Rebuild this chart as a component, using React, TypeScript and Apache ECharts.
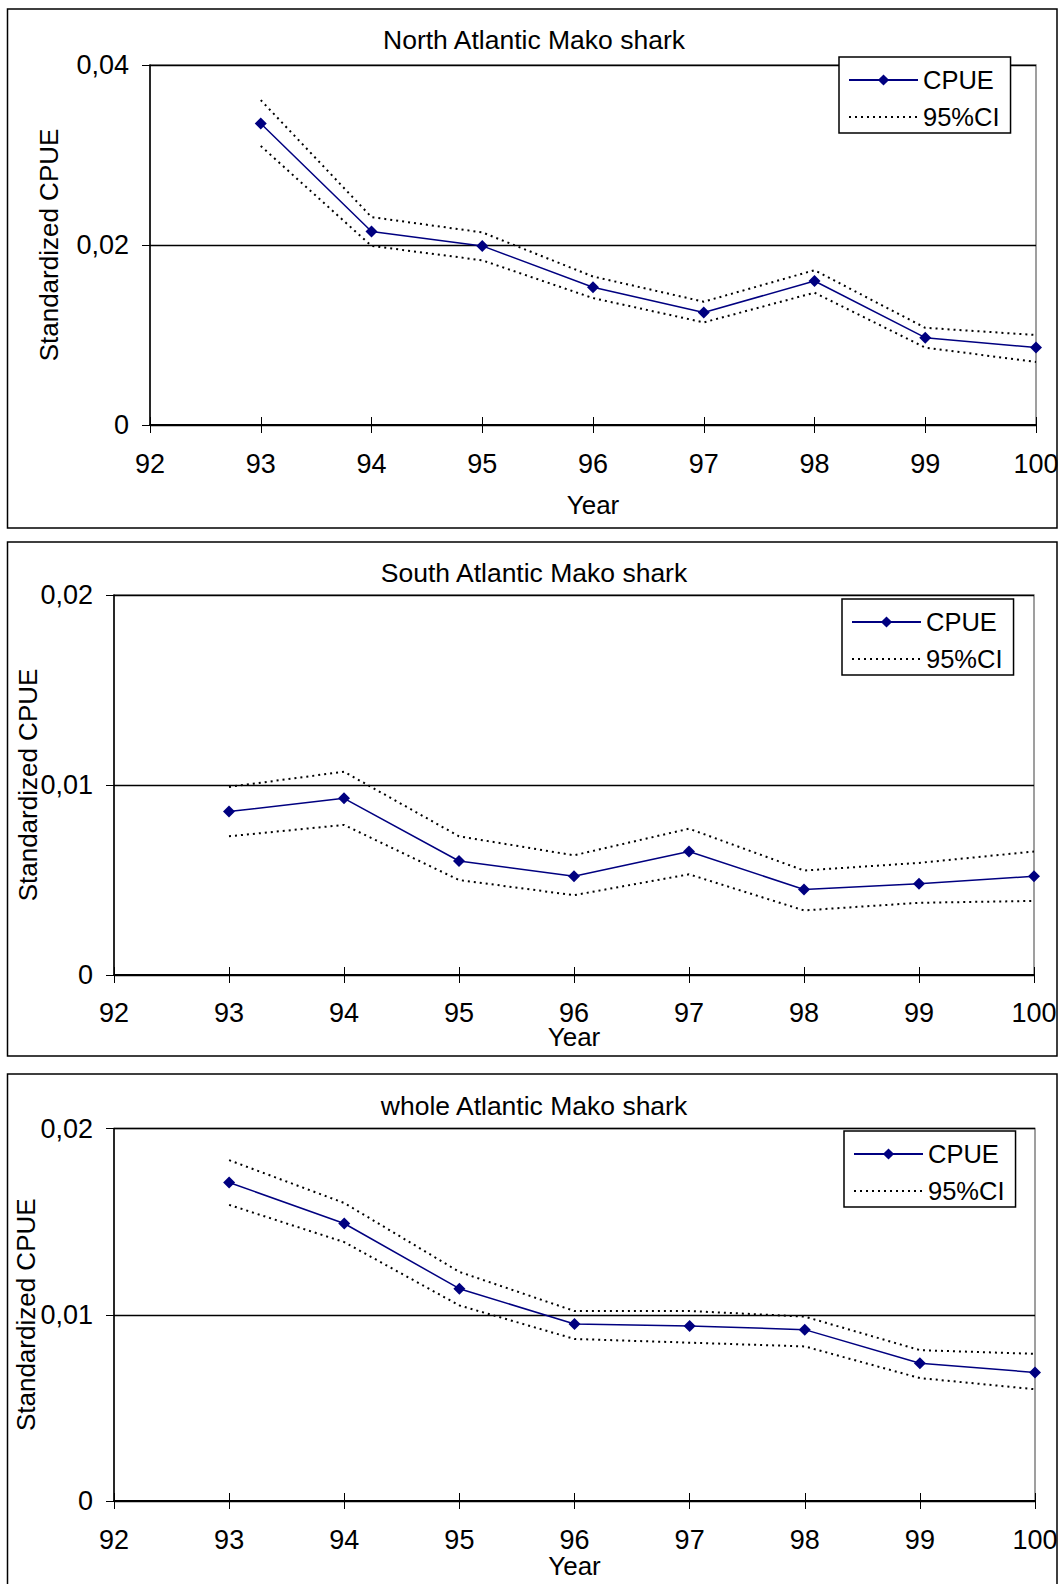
import React, { useEffect, useRef } from "react";
import * as echarts from "echarts";

const years = [93, 94, 95, 96, 97, 98, 99, 100];
const xTicks = [92, 100];

const northCpue = [0.0335, 0.0215, 0.0199, 0.0153, 0.0125, 0.016, 0.0097, 0.0086];
const northUpper = [0.0361, 0.0231, 0.0214, 0.0165, 0.0137, 0.0172, 0.0108, 0.01];
const northLower = [0.031, 0.0199, 0.0183, 0.0141, 0.0114, 0.0147, 0.0086, 0.007];

const southCpue = [0.0086, 0.0093, 0.006, 0.0052, 0.0065, 0.0045, 0.0048, 0.0052];
const southUpper = [0.0099, 0.0107, 0.0073, 0.0063, 0.0077, 0.0055, 0.0059, 0.0065];
const southLower = [0.0073, 0.0079, 0.005, 0.0042, 0.0053, 0.0034, 0.0038, 0.0039];

const wholeCpue = [0.0171, 0.0149, 0.0114, 0.0095, 0.0094, 0.0092, 0.0074, 0.0069];
const wholeUpper = [0.0183, 0.016, 0.0123, 0.0102, 0.0102, 0.0099, 0.0081, 0.0079];
const wholeLower = [0.0159, 0.0139, 0.0105, 0.0087, 0.0085, 0.0083, 0.0066, 0.006];

const titles = ["North Atlantic Mako shark", "South Atlantic Mako shark", "whole Atlantic Mako shark"];
const yMax = [0.04, 0.02, 0.02];
const yInterval = [0.02, 0.01, 0.01];
const xName = "Year";
const yName = "Standardized CPUE";
const legendNames = ["CPUE", "95%CI"];

const FONT = '"Liberation Sans", Arial, sans-serif';

const panels = [
  { cpue: northCpue, upper: northUpper, lower: northLower },
  { cpue: southCpue, upper: southUpper, lower: southLower },
  { cpue: wholeCpue, upper: wholeUpper, lower: wholeLower },
];

const layout = [
  { left: 150, right: 25, top: 65, height: 360, frameY: 9, frameH: 519, titleTop: 26, legendLeft: 839, legendTop: 57, labelMargin: 28, nameGapX: 70, nameGapY: 88 },
  { left: 114, right: 27, top: 595, height: 380, frameY: 542, frameH: 514, titleTop: 559, legendLeft: 842, legendTop: 599, labelMargin: 27, nameGapX: 52, nameGapY: 73 },
  { left: 114, right: 26, top: 1128.5, height: 372.5, frameY: 1074, frameH: 600, titleTop: 1092, legendLeft: 844, legendTop: 1131, labelMargin: 28, nameGapX: 55, nameGapY: 75 },
];

const fmt = (v: number) => (v === 0 ? "0" : v.toFixed(2).replace(".", ","));

export default function App() {
  const ref = useRef<HTMLDivElement>(null);
  useEffect(() => {
    if (!ref.current) return;
    const chart = echarts.init(ref.current, null, { renderer: "svg" });

    const grid: any[] = [];
    const xAxis: any[] = [];
    const yAxis: any[] = [];
    const series: any[] = [];
    const title: any[] = [];
    const legend: any[] = [];
    const graphic: any[] = [];

    layout.forEach((L, i) => {
      grid.push({
        left: L.left,
        right: L.right,
        top: L.top,
        height: L.height,
        containLabel: false,
        outerBoundsMode: "none",
        show: true,
        borderColor: "#808080",
        borderWidth: 1.5,
        backgroundColor: "transparent",
      });
      graphic.push({
        type: "rect",
        shape: { x: 7.5, y: L.frameY, width: 1049.5, height: L.frameH },
        style: { fill: "none", stroke: "#000", lineWidth: 1.5 },
        silent: true,
        z: -1,
      });
      title.push({
        text: titles[i],
        left: 534,
        top: L.titleTop,
        textAlign: "center",
        padding: 0,
        textStyle: { fontFamily: FONT, fontSize: 26.5, fontWeight: "normal", color: "#000" },
      });
      legend.push({
        data: [
          { name: legendNames[0] },
          {
            name: legendNames[1],
            itemStyle: { color: "rgba(0,0,0,0)", borderWidth: 0, opacity: 0 },
          },
        ],
        orient: "vertical",
        left: L.legendLeft,
        top: L.legendTop,
        itemWidth: 69,
        itemHeight: 14,
        itemGap: 11,
        padding: [10, 11, 3, 9],
        borderColor: "#000",
        borderWidth: 1.5,
        backgroundColor: "#fff",
        selectedMode: false,
        textStyle: { fontFamily: FONT, fontSize: 25.5, color: "#000" },
        z: 10,
      });
      xAxis.push({
        type: "value",
        gridIndex: i,
        min: xTicks[0],
        max: xTicks[1],
        interval: 1,
        position: "bottom",
        name: xName,
        nameLocation: "middle",
        nameGap: L.nameGapX,
        nameMoveOverlap: false,
        nameTextStyle: { fontFamily: FONT, fontSize: 26, color: "#000", lineHeight: 20 },
        axisLine: { show: true, onZero: false, lineStyle: { color: "#000", width: 2 } },
        axisTick: { show: true, inside: false, length: 8, lineStyle: { color: "#000", width: 1 } },
        axisLabel: { margin: L.labelMargin, fontFamily: FONT, fontSize: 27, lineHeight: 22, color: "#000", showMinLabel: true, showMaxLabel: true },
        splitLine: { show: false },
      });
      yAxis.push({
        type: "value",
        gridIndex: i,
        min: 0,
        max: yMax[i],
        interval: yInterval[i],
        name: yName,
        nameLocation: "middle",
        nameGap: L.nameGapY,
        nameRotate: 90,
        nameMoveOverlap: false,
        nameTextStyle: { fontFamily: FONT, fontSize: 26, color: "#000" },
        axisLine: { show: true, lineStyle: { color: "#000", width: 1.5 } },
        axisTick: { show: true, inside: false, length: 8, lineStyle: { color: "#000", width: 1 } },
        axisLabel: { margin: 21, fontFamily: FONT, fontSize: 27, color: "#000", formatter: fmt },
        splitLine: { show: true, lineStyle: { color: "#000", width: 1.3 } },
      });
    });

    // secondary x axes to draw the upward half of the crossing ticks
    layout.forEach((L, i) => {
      xAxis.push({
        type: "value",
        gridIndex: i,
        min: xTicks[0],
        max: xTicks[1],
        interval: 1,
        position: "top",
        offset: -L.height,
        axisLine: { show: false },
        axisTick: { show: true, inside: false, length: 8, lineStyle: { color: "#000", width: 1 } },
        axisLabel: { show: false },
        splitLine: { show: false },
      });
    });

    panels.forEach((p, i) => {
      const toPts = (arr: number[]) => years.map((y, j) => [y, arr[j]]);
      series.push({
        name: "95%CI",
        type: "line",
        xAxisIndex: i,
        yAxisIndex: i,
        data: toPts(p.upper),
        symbol: "none",
        clip: false,
        color: "#000",
        lineStyle: { color: "#000", width: 2, type: [2, 4] },
        z: 2,
      });
      series.push({
        name: "95%CI",
        type: "line",
        xAxisIndex: i,
        yAxisIndex: i,
        data: toPts(p.lower),
        symbol: "none",
        clip: false,
        color: "#000",
        lineStyle: { color: "#000", width: 2, type: [2, 4] },
        z: 2,
      });
      series.push({
        name: "CPUE",
        type: "line",
        xAxisIndex: i,
        yAxisIndex: i,
        data: toPts(p.cpue),
        symbol: "diamond",
        symbolSize: 12,
        clip: false,
        color: "#000080",
        itemStyle: { color: "#000080" },
        lineStyle: { color: "#000080", width: 1.5 },
        z: 3,
      });
    });

    chart.setOption({
      animation: false,
      backgroundColor: "#fff",
      title,
      legend,
      grid,
      xAxis,
      yAxis,
      series,
      graphic,
    });
    return () => chart.dispose();
  }, []);

  return (
    <div
      ref={ref}
      style={{ position: "absolute", left: 0, top: 0, width: 1061, height: 1584 }}
    />
  );
}
